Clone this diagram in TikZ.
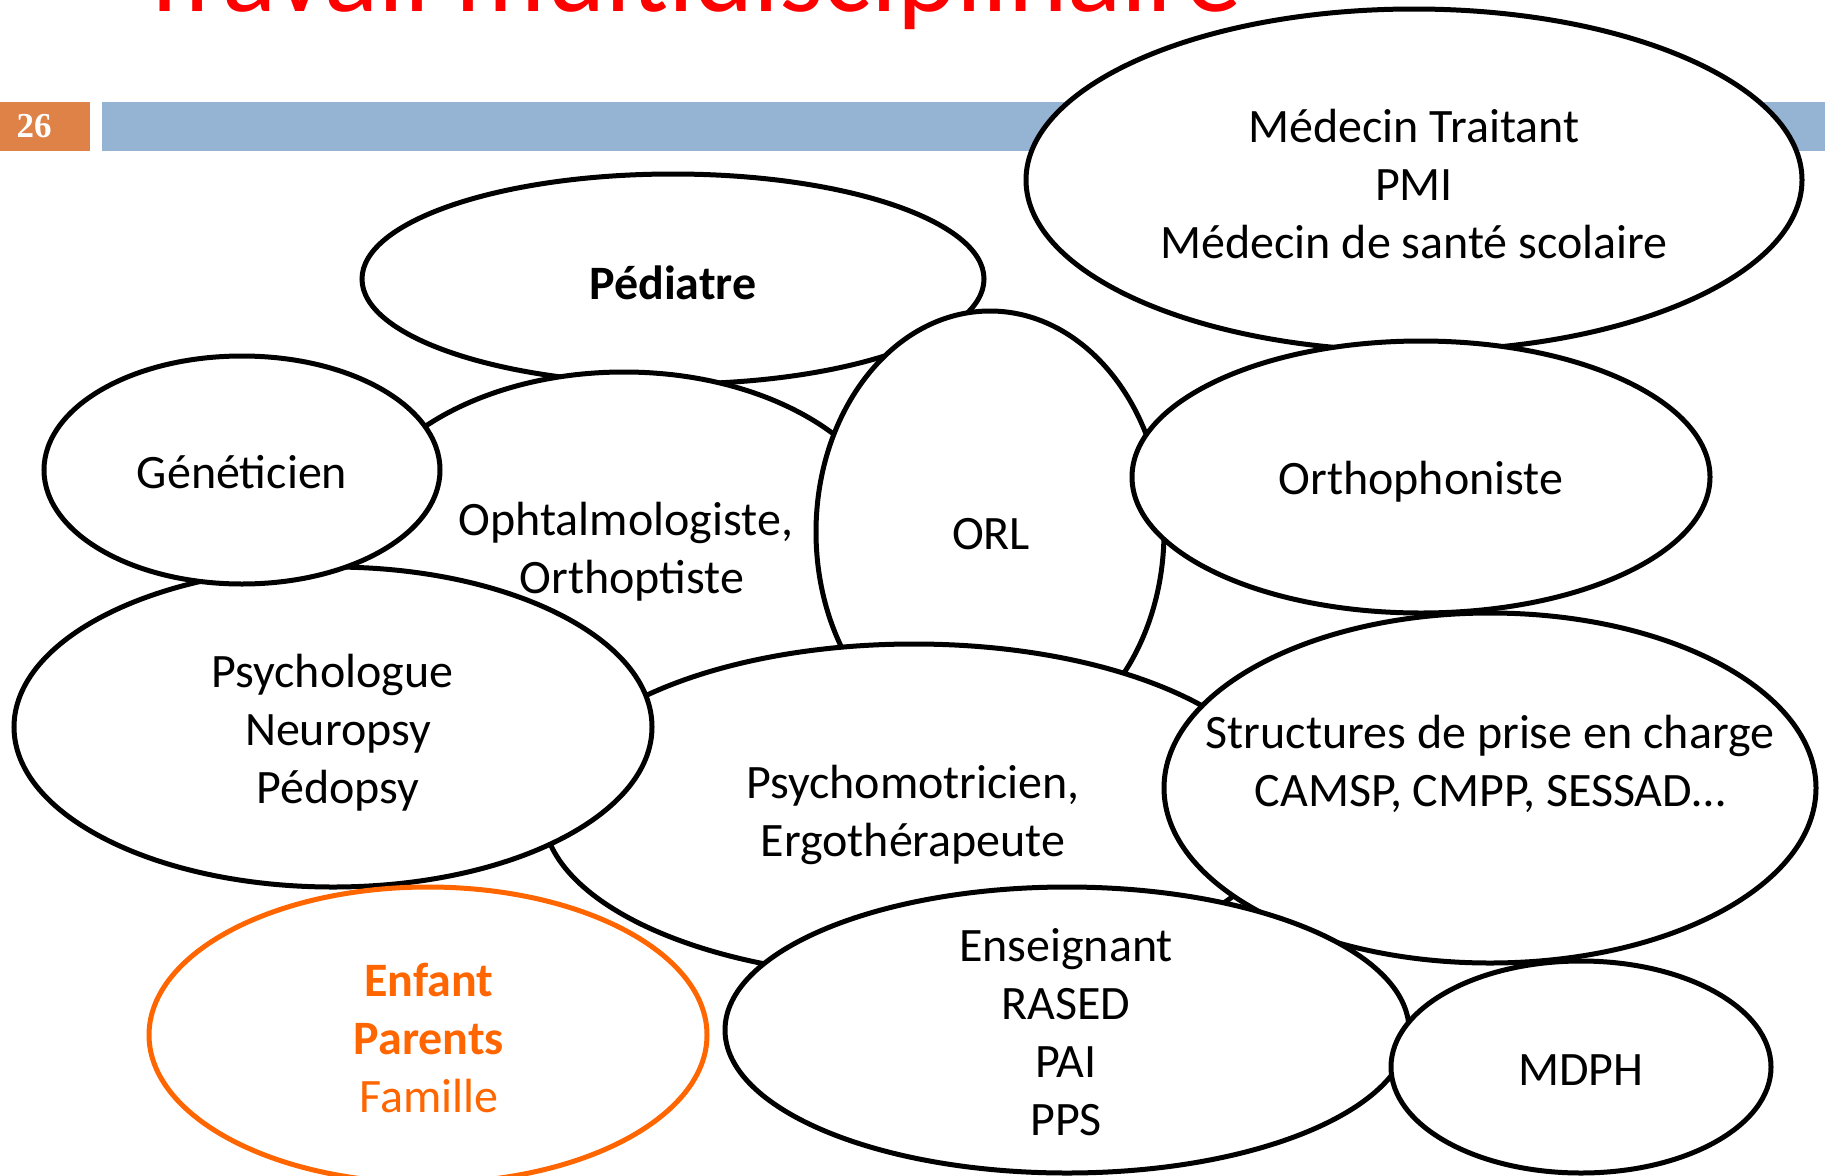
\documentclass[tikz,border=0pt]{standalone}
\usepackage{fontspec}
\setmainfont{Carlito}
\newfontfamily\numfont{Liberation Serif}
\usetikzlibrary{shapes.geometric}
\definecolor{slideorange}{RGB}{222,130,72}
\definecolor{slideblue}{RGB}{149,179,210}
\definecolor{kidorange}{RGB}{255,102,0}
\definecolor{titlered}{RGB}{255,0,0}
\tikzset{
  bubble/.style={ellipse, draw=black, line width=5pt, fill=white, inner sep=0pt},
  kidbubble/.style={ellipse, draw=kidorange, line width=5pt, fill=white, inner sep=0pt},
  lbl/.style={align=center, font=\fontsize{48}{58}\selectfont, inner sep=0pt},
}
\begin{document}
\begin{tikzpicture}[x=1pt, y=-1pt]
\useasboundingbox (0,0) rectangle (1825,1175);
\clip (0,0) rectangle (1825,1175);
\fill[white] (0,0) rectangle (1825,1175);
% title (cut off at top)
\node[anchor=base, text=titlered, font=\fontsize{113}{130}\selectfont, inner sep=0pt] (title) at (690,11) {Travail multidisciplinaire};
% header bar
\fill[slideorange] (0,102) rectangle (90,151);
\fill[slideblue] (102,102) rectangle (1825,151);
\node[text=white, font=\numfont\bfseries\fontsize{35}{40}\selectfont, inner sep=0pt] (num) at (34,126) {26};
% ellipses, back to front
\node[bubble, minimum width=776pt, minimum height=342pt] (med) at (1414,180) {};
\node[lbl] (tmed) at (1414,184) {Médecin Traitant\\PMI\\Médecin de santé scolaire};
\node[bubble, minimum width=622pt, minimum height=210pt] (ped) at (673,279) {};
\node[lbl, font=\fontsize{48}{58}\selectfont\bfseries] (tped) at (673,283) {Pédiatre};
\node[bubble, minimum width=550pt, minimum height=352pt] (oph) at (624,548) {};
\node[lbl] (toph) at (626,552) {Ophtalmologiste,\\\hspace*{12pt}Orthoptiste};
\node[bubble, minimum width=348pt, minimum height=442pt] (orl) at (990,532) {};
\node[lbl] (torl) at (991,534) {ORL};
\node[bubble, minimum width=578pt, minimum height=272pt] (ortho) at (1421,477) {};
\node[lbl] (tortho) at (1421,482) {Orthophoniste};
\node[bubble, minimum width=742pt, minimum height=334pt] (psymo) at (914,811) {};
\node[lbl] (tpsymo) at (913,815) {Psychomotricien,\\Ergothérapeute};
\node[bubble, minimum width=638pt, minimum height=320pt] (psylo) at (333,727) {};
\node[lbl] (tpsylo) at (338,733) {\hspace*{-11pt}Psychologue\\Neuropsy\\Pédopsy};
\node[bubble, minimum width=396pt, minimum height=228pt] (gen) at (242,470) {};
\node[lbl] (tgen) at (242,472) {Généticien};
\node[bubble, minimum width=652pt, minimum height=350pt] (struct) at (1490,788) {};
\node[lbl] (tstruct) at (1490,764) {Structures de prise en charge\\CAMSP, CMPP, SESSAD…};
\node[bubble, minimum width=684pt, minimum height=286pt] (ens) at (1067,1030) {};
\node[lbl] (tens) at (1066,1032) {Enseignant\\RASED\\PAI\\PPS};
\node[bubble, minimum width=380pt, minimum height=212pt] (mdph) at (1581,1067) {};
\node[lbl] (tmdph) at (1581,1070) {MDPH};
\node[kidbubble, minimum width=558pt, minimum height=296pt] (kid) at (428,1035) {};
\node[lbl, text=kidorange] (tkid) at (429,1038) {\textbf{Enfant}\\\textbf{Parents}\\Famille};
\end{tikzpicture}
\end{document}
